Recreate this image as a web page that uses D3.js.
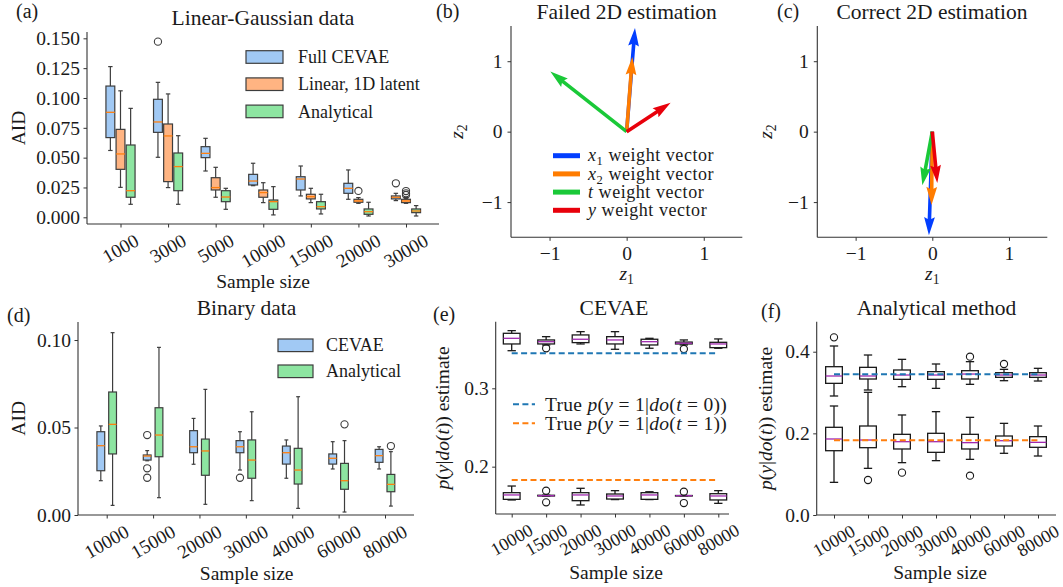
<!DOCTYPE html>
<html><head><meta charset="utf-8">
<script src="https://cdn.jsdelivr.net/npm/d3@7"></script>
<style>
body{margin:0;background:#fff}
svg{display:block}
text{font-family:"Liberation Serif","Times New Roman","DejaVu Serif",serif;fill:#1a1a1a}
</style>
</head><body>
<svg id="fig" width="1063" height="587"></svg>
<script>
// ---------------- DATA ----------------
// box stats: [lowWhisker, q1, median, q3, highWhisker]
const aCats = ["1000","3000","5000","10000","15000","20000","30000"];
const aFull = [
 [0.056,0.0668,0.088,0.110,0.1263],
 [0.0503,0.0712,0.0799,0.0989,0.1131],
 [0.0388,0.050,0.0536,0.0592,0.0662],
 [0.0265,0.0271,0.0304,0.036,0.0453],
 [0.0179,0.0229,0.0321,0.034,0.043],
 [0.0151,0.0201,0.0243,0.0285,0.0397],
 [0.014,0.0154,0.0168,0.0179,0.0201]];
const aFullOut = [[],[0.1472],[],[],[],[],[0.0285]];
const aLinear = [
 [0.0251,0.0402,0.0531,0.0737,0.106],
 [0.0249,0.0299,0.0682,0.0782,0.1034],
 [0.0168,0.0229,0.0249,0.0332,0.0419],
 [0.0123,0.0168,0.0207,0.0229,0.029],
 [0.0123,0.0154,0.0173,0.0193,0.0243],
 [0.0117,0.0126,0.0137,0.0151,0.0165],
 [0.0117,0.0123,0.0137,0.0151,0.0165]];
const aLinearOut = [[],[],[],[],[],[0.0221],[0.022,0.0201,0.0187]];
const aAnalytical = [
 [0.0109,0.0168,0.0223,0.0606,0.0913],
 [0.0109,0.0223,0.0425,0.0539,0.0684],
 [0.0067,0.0131,0.017,0.0223,0.0243],
 [0.002,0.0067,0.0131,0.0145,0.0257],
 [0.0028,0.007,0.0089,0.0131,0.0193],
 [0.0011,0.0025,0.0047,0.007,0.0126],
 [0.0011,0.0039,0.0053,0.007,0.0098]];
const aAnalyticalOut = [[],[],[],[],[],[],[]];
const aSeries = ["Full CEVAE","Linear, 1D latent","Analytical"];
const aYTicks = [0,0.025,0.05,0.075,0.1,0.125,0.15];

const vecLabels = ["x1","x2","t","y"];
const bVectors = [[0.108,1.47],[0.074,1.06],[-0.99,0.853],[0.57,0.41]];
const cVectors = [[-0.044,-1.47],[-0.01,-1.04],[-0.13,-0.76],[0.065,-0.73]];
const zTicks = [-1,0,1];

const dCats = ["10000","15000","20000","30000","40000","60000","80000"];
const dCevae = [
 [0.0196,0.0253,0.0396,0.0476,0.0509],
 [0.031,0.0314,0.0337,0.0343,0.0368],
 [0.029,0.0356,0.039,0.0482,0.0552],
 [0.0257,0.0356,0.039,0.0425,0.0476],
 [0.021,0.0291,0.0356,0.0394,0.0429],
 [0.0263,0.0291,0.0324,0.0349,0.0419],
 [0.0263,0.0301,0.0339,0.0375,0.039]];
const dCevaeOut = [[],[0.0457,0.0267,0.0213],[],[0.0213],[],[],[]];
const dAnalytical = [
 [0.0055,0.0349,0.0518,0.0703,0.1042],
 [0.0099,0.0333,0.0457,0.0613,0.0958],
 [0.0061,0.0227,0.0366,0.0434,0.0718],
 [0.0082,0.021,0.0314,0.0429,0.059],
 [0.0038,0.0177,0.0257,0.0381,0.0676],
 [0.0017,0.0147,0.0196,0.0295,0.0425],
 [0.0051,0.0133,0.0175,0.0232,0.0362]];
const dAnalyticalOut = [[],[],[],[],[],[0.0518],[0.0394]];
const dSeries = ["CEVAE","Analytical"];
const dYTicks = [0,0.05,0.10];

const eUpper = [
 [0.348,0.3566,0.3638,0.3702,0.3736],
 [0.3553,0.3566,0.3595,0.3617,0.3659],
 [0.3566,0.3583,0.3626,0.3681,0.3723],
 [0.3498,0.3566,0.3617,0.3659,0.3723],
 [0.3511,0.3553,0.3595,0.3626,0.3638],
 [0.3553,0.3566,0.3575,0.359,0.3617],
 [0.3511,0.3519,0.3566,0.3587,0.363]];
const eUpperOut = [[],[0.3511],[],[],[],[0.3502],[]];
const eLower = [
 [0.1575,0.1583,0.1639,0.1668,0.1753],
 [0.1625,0.1626,0.163,0.1635,0.1636],
 [0.1511,0.1566,0.1639,0.1668,0.1724],
 [0.158,0.1587,0.1626,0.1651,0.1694],
 [0.158,0.1583,0.1639,0.1668,0.168],
 [0.1628,0.1628,0.163,0.1632,0.1632],
 [0.1532,0.1575,0.1626,0.1655,0.1694]];
const eLowerOut = [[],[0.1693,0.1545],[],[],[],[0.168,0.1536],[]];
const eYTicks = [0.2,0.3];

const fUpper = [
 [0.2915,0.3225,0.3405,0.3633,0.414],
 [0.3062,0.3331,0.3405,0.3617,0.3919],
 [0.3143,0.3323,0.3429,0.3552,0.3813],
 [0.3102,0.3323,0.3429,0.3511,0.3699],
 [0.3201,0.3331,0.3453,0.3535,0.3756],
 [0.329,0.3372,0.3429,0.3486,0.3568],
 [0.3282,0.3372,0.3429,0.3486,0.3593]];
const fUpperOut = [[0.4352],[],[],[],[0.3878],[0.3699],[]];
const fLower = [
 [0.080,0.1575,0.1862,0.2148,0.267],
 [0.1143,0.1649,0.1837,0.218,0.3005],
 [0.1282,0.1617,0.1796,0.1976,0.245],
 [0.1331,0.1535,0.1796,0.2001,0.2531],
 [0.1363,0.1617,0.1772,0.1976,0.2392],
 [0.1511,0.169,0.182,0.1935,0.2245],
 [0.1445,0.1658,0.178,0.1919,0.218]];
const fLowerOut = [[],[0.0857],[0.1037],[],[0.0963],[],[]];
const fYTicks = [0,0.2,0.4];

const trueDo0 = 0.3446, trueDo1 = 0.183;

// ---------------- STYLE ----------------
const FS_TICK = 19, FS_LAB = 19.5, FS_TITLE = 21.5, FS_LEG = 18, FS_PANEL = 20;
const SPINE = "#333";
const fillA = ["#a1c9f4","#ffb482","#8de5a1"];
const fillD = ["#a1c9f4","#8de5a1"];
const vecColors = ["#023eff","#ff7c00","#1ac938","#e8000b"];
const MED = "#ff7f0e", MED2 = "#a02aaf";
const svg = d3.select("#fig");

function spines(g, L, R, T, B) {
  g.append("line").attr("x1",L).attr("x2",L).attr("y1",T).attr("y2",B).attr("stroke",SPINE).attr("stroke-width",1.1);
  g.append("line").attr("x1",L).attr("x2",R).attr("y1",B).attr("y2",B).attr("stroke",SPINE).attr("stroke-width",1.1);
}
function yAxis(g, y, L, ticks, fmt, pad) {
  const ax = g.append("g").attr("transform",`translate(${L},0)`)
    .call(d3.axisLeft(y).tickValues(ticks).tickFormat(d3.format(fmt)).tickSize(3.5).tickPadding(pad));
  ax.select(".domain").remove();
  ax.attr("font-size",19.5).attr("font-family",null).attr("color",SPINE);
  ax.selectAll("text").attr("fill","#1a1a1a");
}
function xTickMarks(g, x, B, cats) {
  const ax = g.append("g").attr("transform",`translate(0,${B})`)
    .call(d3.axisBottom(x).tickValues(cats).tickSize(3.5).tickFormat(""));
  ax.select(".domain").remove();
  ax.attr("color",SPINE);
}
function rotLabels(g, x, B, cats, fs) {
  cats.forEach(c => {
    const t = g.append("text").attr("text-anchor","middle").attr("font-size",fs).text(c);
    const w = t.node().getComputedTextLength();
    const H = w*0.5 + fs*0.866*0.95;
    t.attr("transform",`translate(${x(c)},${B+7+H/2}) rotate(-30)`).attr("dy","0.34em");
  });
}
function boxes(g, x, y, cats, stats, outs, off, w, fill, edge, med, lw) {
  cats.forEach((c,i) => {
    const cx = x(c)+off, s = stats[i];
    const gg = g.append("g").attr("stroke",edge).attr("stroke-width",lw);
    gg.append("line").attr("x1",cx).attr("x2",cx).attr("y1",y(s[0])).attr("y2",y(s[1]));
    gg.append("line").attr("x1",cx).attr("x2",cx).attr("y1",y(s[3])).attr("y2",y(s[4]));
    gg.append("line").attr("x1",cx-w/4).attr("x2",cx+w/4).attr("y1",y(s[0])).attr("y2",y(s[0]));
    gg.append("line").attr("x1",cx-w/4).attr("x2",cx+w/4).attr("y1",y(s[4])).attr("y2",y(s[4]));
    gg.append("rect").attr("x",cx-w/2).attr("width",w).attr("y",y(s[3]))
      .attr("height",Math.max(0.5,y(s[1])-y(s[3]))).attr("fill",fill);
    gg.append("line").attr("x1",cx-w/2).attr("x2",cx+w/2).attr("y1",y(s[2])).attr("y2",y(s[2]))
      .attr("stroke",med).attr("stroke-width",1.3);
    outs[i].forEach(o => gg.append("circle").attr("cx",cx).attr("cy",y(o)).attr("r",3.6)
      .attr("fill","none").attr("stroke",edge).attr("stroke-width",1.1));
  });
}
function title(txt, cx, by) {
  svg.append("text").attr("x",cx).attr("y",by).attr("text-anchor","middle").attr("font-size",FS_TITLE).text(txt);
}
function panelLetter(txt, x, y) {
  svg.append("text").attr("x",x).attr("y",y).attr("font-size",FS_PANEL).text(txt);
}
function xlabel(txt, cx, by) {
  svg.append("text").attr("x",cx).attr("y",by).attr("text-anchor","middle").attr("font-size",FS_LAB).text(txt);
}
function ylabel(parts, bx, cy) {
  const t = svg.append("text").attr("transform",`translate(${bx},${cy}) rotate(-90)`)
    .attr("text-anchor","middle").attr("font-size",FS_LAB);
  addParts(t, parts);
}
// parts: [text, italic?, sub?]
function addParts(t, parts, fs) {
  let shifted = 0;
  parts.forEach(p => {
    const ts = t.append("tspan").text(p[0]);
    if (p[1]) ts.attr("font-style","italic");
    if (p[2]) { ts.attr("font-size", (fs||FS_LAB)*0.7).attr("dy", 4); shifted = 4; }
    else if (shifted) { ts.attr("dy", -shifted); shifted = 0; }
  });
}

// ---------------- PANEL A ----------------
(function(){
  const L=87,R=439,T=32,B=224;
  const g = svg.append("g");
  const x = d3.scalePoint().domain(aCats).range([120.5,406]);
  const y = d3.scaleLinear().domain([-0.00561,0.1553]).range([B,T]);
  spines(g,L,R,T,B);
  yAxis(g,y,L,aYTicks,".3f",3.5);
  xTickMarks(g,x,B,aCats);
  rotLabels(g,x,B,aCats,FS_TICK);
  const step = x.step(), off = step*0.213, w = step*0.186;
  const stats=[aFull,aLinear,aAnalytical], outs=[aFullOut,aLinearOut,aAnalyticalOut];
  stats.forEach((s,k)=>boxes(g,x,y,aCats,s,outs[k],(k-1)*off,w,fillA[k],"#3d3d3d",MED,1.2));
  aSeries.forEach((nm,k)=>{
    const yy = 50.7 + k*27.2;
    g.append("rect").attr("x",246).attr("y",yy).attr("width",37).attr("height",12.6)
      .attr("fill",fillA[k]).attr("stroke","#3d3d3d").attr("stroke-width",1.2);
    g.append("text").attr("x",298).attr("y",yy+6.3).attr("dy","0.34em").attr("font-size",FS_LEG).text(nm);
  });
  title("Linear-Gaussian data",263,24.5);
  panelLetter("(a)",16,18);
  xlabel("Sample size",263,288.3);
  ylabel([["AID"]],25,128);
})();

// ---------------- PANELS B, C ----------------
function quiverPanel(L,R,T,B,vecs,ttl,tcx,letter,lx,ylx,legend){
  const g = svg.append("g");
  const x = d3.scaleLinear().domain([-1.5,1.5]).range([L,R]);
  const y = d3.scaleLinear().domain([-1.5,1.5]).range([B,T]);
  spines(g,L,R,T,B);
  yAxis(g,y,L,zTicks,"d",5);
  const ax = g.append("g").attr("transform",`translate(0,${B})`)
    .call(d3.axisBottom(x).tickValues(zTicks).tickFormat(d3.format("d")).tickSize(3.5).tickPadding(5.5));
  ax.select(".domain").remove();
  ax.attr("font-size",19.5).attr("font-family",null).attr("color",SPINE);
  ax.selectAll("text").attr("fill","#1a1a1a");
  const sw=3.6, hw=3*sw, hl=5*sw, hal=4.5*sw;
  vecs.forEach((v,i)=>{
    const x0=x(0),y0=y(0),x1=x(v[0]),y1=y(v[1]);
    const len=Math.hypot(x1-x0,y1-y0), ang=Math.atan2(y1-y0,x1-x0)*180/Math.PI;
    const pts=[[0,-sw/2],[len-hal,-sw/2],[len-hl,-hw/2],[len,0],[len-hl,hw/2],[len-hal,sw/2],[0,sw/2]];
    g.append("polygon").attr("points",pts.map(p=>p.join(",")).join(" "))
      .attr("transform",`translate(${x0},${y0}) rotate(${ang})`).attr("fill",vecColors[i]);
  });
  if (legend) {
    const fsl = 18;
    vecLabels.forEach((lb,i)=>{
      const yy = 155.7 + i*18.2;
      g.append("line").attr("x1",553).attr("x2",580).attr("y1",yy).attr("y2",yy)
        .attr("stroke",vecColors[i]).attr("stroke-width",5);
      const t = g.append("text").attr("x",588).attr("y",yy).attr("dy","0.32em").attr("font-size",fsl)
        .attr("letter-spacing",0.55);
      const parts = lb.length>1 ? [[lb[0],true],[lb[1],false,true],[" weight vector"]] : [[lb,true],[" weight vector"]];
      addParts(t,parts,fsl);
    });
  }
  title(ttl,tcx,18.5);
  panelLetter(letter,lx,18);
  const xl = svg.append("text").attr("x",(L+R)/2).attr("y",280).attr("text-anchor","middle").attr("font-size",FS_LAB);
  addParts(xl,[["z",true],["1",false,true]]);
  ylabel([["z",true],["2",false,true]],ylx,(T+B)/2);
}
quiverPanel(511,742.3,26,237.3,bVectors,"Failed 2D estimation",626.7,"(b)",436,463,true);
quiverPanel(817.3,1047.3,26,237.3,cVectors,"Correct 2D estimation",932,"(c)",777,772,false);

// ---------------- PANEL D ----------------
(function(){
  const L=78,R=414,T=322,B=515;
  const g = svg.append("g");
  const x = d3.scalePoint().domain(dCats).range([106.7,385]);
  const y = d3.scaleLinear().domain([0,0.1103]).range([B,T]);
  spines(g,L,R,T,B);
  yAxis(g,y,L,dYTicks,".2f",3.5);
  xTickMarks(g,x,B,dCats);
  rotLabels(g,x,B,dCats,FS_TICK);
  const step = x.step(), off = step*0.127, w = step*0.168;
  boxes(g,x,y,dCats,dCevae,dCevaeOut,-off,w,fillD[0],"#3d3d3d",MED,1.2);
  boxes(g,x,y,dCats,dAnalytical,dAnalyticalOut,off,w,fillD[1],"#3d3d3d",MED,1.2);
  dSeries.forEach((nm,k)=>{
    const yy = 339 + k*26;
    g.append("rect").attr("x",278).attr("y",yy).attr("width",35).attr("height",12.6)
      .attr("fill",fillD[k]).attr("stroke","#3d3d3d").attr("stroke-width",1.2);
    g.append("text").attr("x",326).attr("y",yy+6.3).attr("dy","0.34em").attr("font-size",FS_LEG).text(nm);
  });
  title("Binary data",246.5,315);
  panelLetter("(d)",7,321.5);
  xlabel("Sample size",246.7,580);
  ylabel([["AID"]],25,418.3);
})();

// ---------------- PANELS E, F ----------------
const pyLabel = [["p",true],["("],["y",true],["|"],["do",true],["("],["t",true],["))"],[" estimate"]];
function doPanel(L,R,T,B,t0,t1,yDom,yTicks,up,upOut,lo,loOut,ttl,tcx,letter,lx,ly,xlcx,ylx,legend){
  const g = svg.append("g");
  const x = d3.scalePoint().domain(dCats).range([t0,t1]);
  const y = d3.scaleLinear().domain(yDom).range([B,T]);
  spines(g,L,R,T,B);
  yAxis(g,y,L,yTicks,".1f",3.5);
  xTickMarks(g,x,B,dCats);
  rotLabels(g,x,B,dCats,18);
  boxes(g,x,y,dCats,up,upOut,0,16.7,"#fff","#1a1a1a",MED2,1.3);
  boxes(g,x,y,dCats,lo,loOut,0,16.7,"#fff","#1a1a1a",MED2,1.3);
  [[trueDo0,"#1f77b4"],[trueDo1,"#ff7f0e"]].forEach(d=>{
    g.append("line").attr("x1",x(dCats[0])).attr("x2",x(dCats[dCats.length-1]))
      .attr("y1",y(d[0])).attr("y2",y(d[0])).attr("stroke",d[1]).attr("stroke-width",2)
      .attr("stroke-dasharray","6,3.4");
  });
  if (legend) {
    const fsl = 19.5;
    [["0","#1f77b4"],["1","#ff7f0e"]].forEach((d,i)=>{
      const yy = 404.3 + i*19;
      g.append("line").attr("x1",513).attr("x2",535).attr("y1",yy).attr("y2",yy)
        .attr("stroke",d[1]).attr("stroke-width",2).attr("stroke-dasharray","6,3.4");
      const t = g.append("text").attr("x",545).attr("y",yy).attr("dy","0.32em").attr("font-size",fsl)
        .attr("letter-spacing",0.3);
      addParts(t,[["True "],["p",true],["("],["y",true],["\u00a0=\u00a01|"],["do",true],["("],["t",true],["\u00a0=\u00a0"+d[0]+"))"]],fsl);
    });
  }
  title(ttl,tcx,315);
  panelLetter(letter,lx,ly);
  xlabel("Sample size",xlcx,578.5);
  ylabel(pyLabel,ylx,(T+B)/2);
}
doPanel(495.7,729,321.7,514,511.7,718.3,[0.1396,0.385],eYTicks,eUpper,eUpperOut,eLower,eLowerOut,
        "CEVAE",614,"(e)",433,321,616,449,true);
doPanel(816.7,1056,321.7,515,834,1038,[0,0.4735],fYTicks,fUpper,fUpperOut,fLower,fLowerOut,
        "Analytical method",936.5,"(f)",761,318,940,772,false);
</script>
</body></html>
